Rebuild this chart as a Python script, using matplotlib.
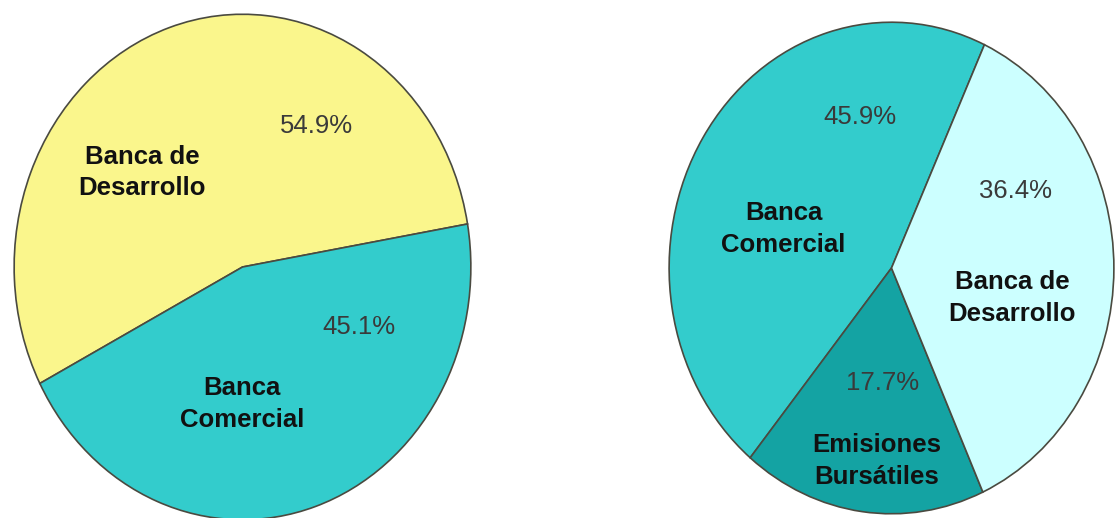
import matplotlib
matplotlib.use("Agg")
import matplotlib.pyplot as plt

plt.rcParams['font.family'] = ['Liberation Sans', 'DejaVu Sans']

# Left pie data
left_labels = ["Banca de\nDesarrollo", "Banca\nComercial"]
left_values = [54.9, 45.1]
left_colors = ["#FAF68C", "#33CCCC"]

# Right pie data
right_labels = ["Banca\nComercial", "Emisiones\nBursátiles", "Banca de\nDesarrollo"]
right_values = [45.9, 17.7, 36.4]
right_colors = ["#33CCCC", "#14A3A3", "#CCFFFF"]

# layout (normalized pie coordinates for texts)
left_label_pos = [(-0.438, 0.374), (-0.002, -0.543)]
left_pct_pos = [(0.325, 0.559), (0.512, -0.236)]
right_label_pos = [(-0.485, 0.158), (-0.065, -0.785), (0.544, -0.121)]
right_pct_pos = [(-0.141, 0.615), (-0.038, -0.466), (0.557, 0.312)]

W, H = 1117, 518
fig = plt.figure(figsize=(W / 100, H / 100), dpi=100)
fig.patch.set_facecolor("white")


def make_axes(x0, y0, x1, y1):
    # pixel bbox (top-left origin) -> figure fraction
    return fig.add_axes([x0 / W, (H - y1) / H, (x1 - x0) / W, (y1 - y0) / H])


def draw(ax, values, colors, labels, start, label_pos, pct_pos):
    ax.pie(values, colors=colors, startangle=start, counterclock=True,
           radius=1.0, wedgeprops=dict(edgecolor="#4a4a40", linewidth=1.2))
    ax.set_aspect("auto")
    ax.set_xlim(-1.005, 1.005)
    ax.set_ylim(-1.005, 1.005)
    ax.axis("off")
    for lab, (x, y) in zip(labels, label_pos):
        ax.text(x, y, lab, ha="center", va="center", fontsize=18.5,
                fontweight="bold", color="#111111", linespacing=1.4)
    for v, (x, y) in zip(values, pct_pos):
        ax.text(x, y, f"{v:.1f}%", ha="center", va="center", fontsize=18.5,
                color="#3a3a3a")


axL = make_axes(13, 13, 472, 521)
draw(axL, left_values, left_colors, left_labels, 9.8, left_label_pos, left_pct_pos)

axR = make_axes(668, 21, 1115, 515)
draw(axR, right_values, right_colors, right_labels, 65.3, right_label_pos, right_pct_pos)

fig.savefig("out.png", dpi=100, facecolor="white")
